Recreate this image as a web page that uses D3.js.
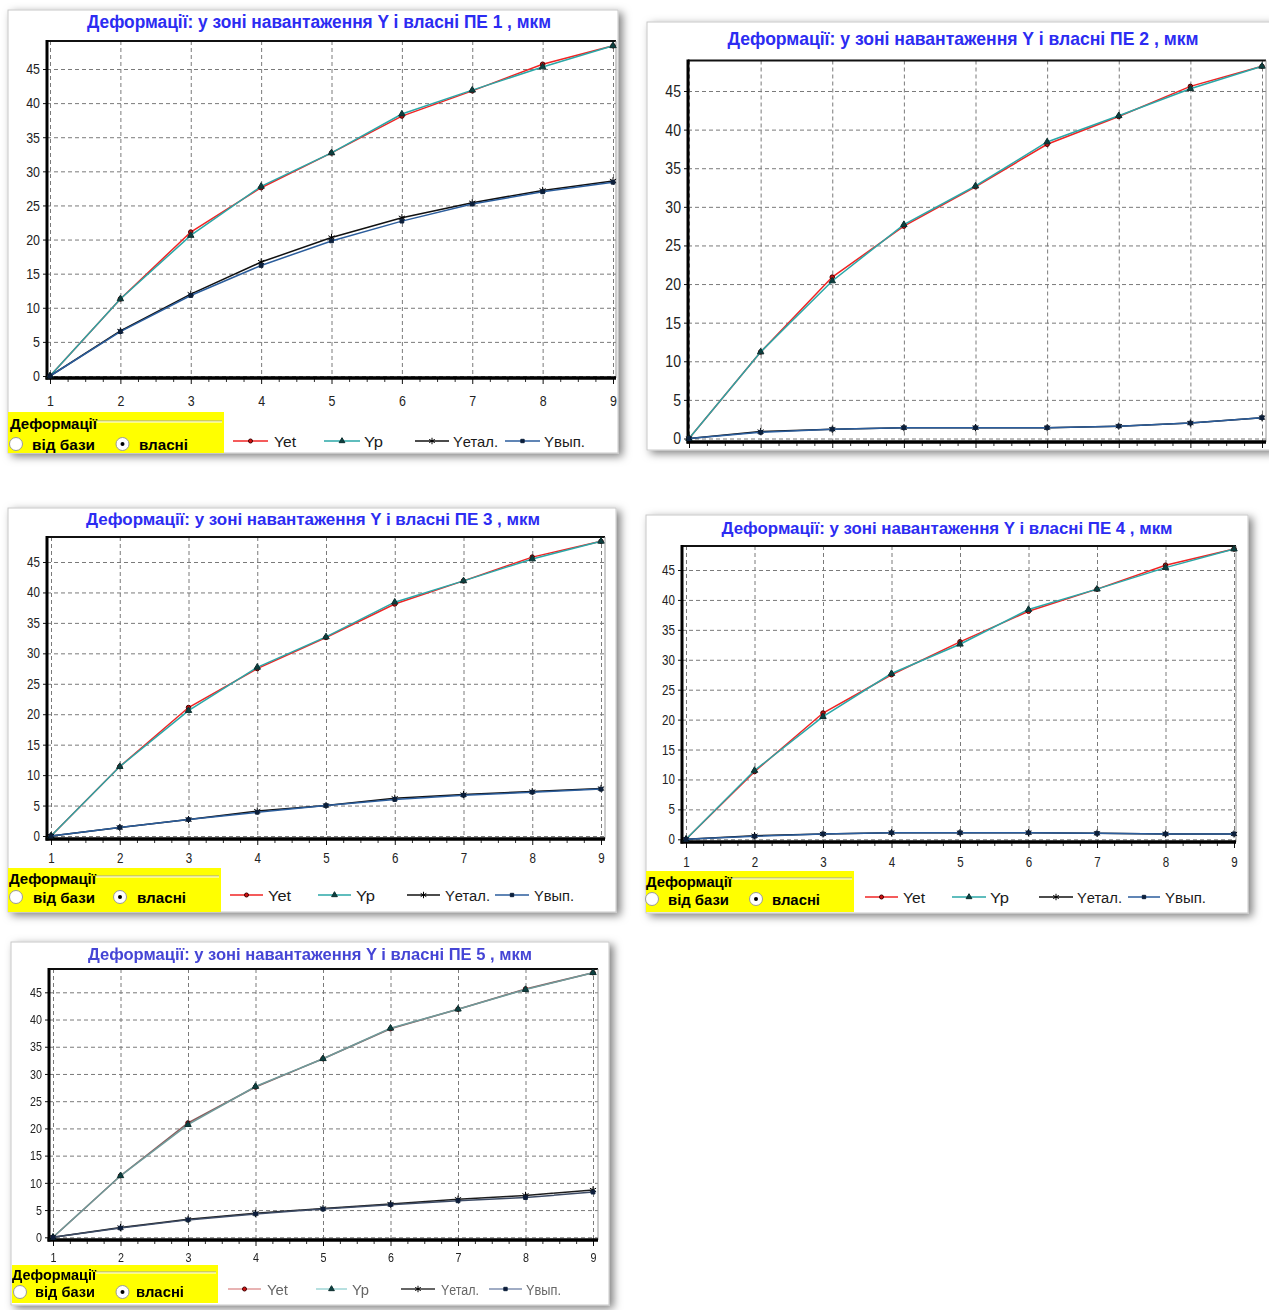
<!DOCTYPE html>
<html>
<head>
<meta charset="utf-8">
<script src="https://cdn.jsdelivr.net/npm/d3@7"></script>
<style>
  html, body { margin: 0; padding: 0; background: #fff; }
  svg { display: block; }
</style>
</head>
<body>
<svg id="chart" width="1269" height="1310"></svg>
<script>
// Load stages along the X axis and Y gridline values (мкм)
const stages = [1, 2, 3, 4, 5, 6, 7, 8, 9];
const yTicks = [0, 5, 10, 15, 20, 25, 30, 35, 40, 45];
const seriesNames = ["Yet", "Yp", "Yетал.", "Yвып."];

// ПЕ 1
const pe1Yet   = [0, 11.3, 21.1, 27.6, 32.7, 38.1, 41.8, 45.7, 48.4];
const pe1Yp    = [0, 11.3, 20.6, 27.8, 32.7, 38.4, 41.9, 45.3, 48.4];
const pe1Yetal = [0, 6.6, 12.0, 16.7, 20.3, 23.2, 25.4, 27.2, 28.6];
const pe1Yvyp  = [0, 6.5, 11.8, 16.2, 19.8, 22.7, 25.2, 27.0, 28.4];
// ПЕ 2
const pe2Yet   = [0, 11.2, 20.9, 27.5, 32.6, 38.1, 41.7, 45.6, 48.2];
const pe2Yp    = [0, 11.2, 20.4, 27.7, 32.7, 38.4, 41.8, 45.3, 48.2];
const pe2Yetal = [0, 0.9, 1.2, 1.4, 1.4, 1.4, 1.6, 2.0, 2.7];
const pe2Yvyp  = [0, 0.8, 1.2, 1.4, 1.4, 1.4, 1.6, 2.0, 2.7];
// ПЕ 3
const pe3Yet   = [0, 11.4, 21.1, 27.5, 32.6, 38.1, 41.9, 45.8, 48.4];
const pe3Yp    = [0, 11.4, 20.6, 27.7, 32.7, 38.4, 41.9, 45.5, 48.4];
const pe3Yetal = [0, 1.4, 2.7, 4.1, 5.0, 6.2, 6.8, 7.3, 7.8];
const pe3Yvyp  = [0, 1.4, 2.7, 3.9, 5.0, 6.0, 6.7, 7.2, 7.7];
// ПЕ 4
const pe4Yet   = [0, 11.3, 21.1, 27.5, 33.0, 38.1, 41.8, 45.8, 48.5];
const pe4Yp    = [0, 11.5, 20.5, 27.7, 32.6, 38.4, 41.8, 45.4, 48.5];
const pe4Yetal = [0, 0.6, 0.9, 1.1, 1.1, 1.1, 1.0, 0.9, 0.9];
const pe4Yvyp  = [0, 0.5, 0.9, 1.1, 1.1, 1.1, 1.0, 0.9, 0.9];
// ПЕ 5
const pe5Yet   = [0, 11.3, 21.0, 27.6, 32.8, 38.3, 41.9, 45.6, 48.6];
const pe5Yp    = [0, 11.3, 20.7, 27.7, 32.8, 38.4, 41.9, 45.5, 48.6];
const pe5Yetal = [0, 1.8, 3.3, 4.4, 5.3, 6.1, 7.0, 7.7, 8.7];
const pe5Yvyp  = [0, 1.7, 3.2, 4.3, 5.2, 6.0, 6.7, 7.3, 8.3];

// Narrow look: regular sans squeezed to a fixed advance width
const SANS = "'Liberation Sans',Arial,'DejaVu Sans',sans-serif";
const NARROW_EM = 0.46;

const svg = d3.select("#chart");
const defs = svg.append("defs");
const sh = defs.append("filter").attr("id", "shadow")
  .attr("x", "-5%").attr("y", "-5%").attr("width", "115%").attr("height", "115%");
sh.append("feDropShadow").attr("dx", 4).attr("dy", 3).attr("stdDeviation", 4.5)
  .attr("flood-color", "#000").attr("flood-opacity", 0.5);
defs.append("filter").attr("id", "soft")
  .append("feGaussianBlur").attr("stdDeviation", 0.6);

// Panel layouts
const panels = [
  { pe: 1, data: [pe1Yet, pe1Yp, pe1Yetal, pe1Yvyp],
    card: { x: 8, y: 10, w: 610, h: 443 },
    plot: { l: 47, t: 41, r: 616, b: 378 },
    x1: 50, x9: 613, y0: 376, y45: 69,
    title: { cx: 319, base: 28, w: 464, size: 18 },
    tickSize: 15, xLabelBase: 406,
    legend: { box: [8, 412, 216, 41], size: 15,
      head: { x: 10, base: 429, w: 87 }, rule: [97, 222, 421],
      r1: [16, 444], r2: [122.5, 444], t1: { x: 32, w: 63 }, t2: { x: 139, w: 49 }, tBase: 450,
      sy: 441, items: [[233, 268, 274, 22], [324, 360, 364, 19], [415, 449, 453, 45], [505, 540, 544, 41]] } },
  { pe: 2, data: [pe2Yet, pe2Yp, pe2Yetal, pe2Yvyp],
    card: { x: 647, y: 22, w: 625, h: 428 },
    plot: { l: 688, t: 60.5, r: 1266, b: 442 },
    x1: 689, x9: 1262, y0: 438.5, y45: 91,
    title: { cx: 963, base: 45, w: 471, size: 19 },
    tickSize: 17, xLabelBase: null, legend: null },
  { pe: 3, data: [pe3Yet, pe3Yp, pe3Yetal, pe3Yvyp],
    card: { x: 8, y: 508, w: 608, h: 404 },
    plot: { l: 47, t: 537, r: 605, b: 839 },
    x1: 51, x9: 601, y0: 836, y45: 562,
    title: { cx: 313, base: 525, w: 454, size: 16 },
    tickSize: 14, xLabelBase: 863,
    legend: { box: [8, 868, 213, 44], size: 14,
      head: { x: 9, base: 884, w: 87 }, rule: [96, 219, 876],
      r1: [16, 897], r2: [120, 897], t1: { x: 33, w: 62 }, t2: { x: 137, w: 49 }, tBase: 903,
      sy: 895, items: [[230, 263, 268, 23], [318, 351, 356, 19], [407, 440, 445, 45], [495, 529, 534, 40]] } },
  { pe: 4, data: [pe4Yet, pe4Yp, pe4Yetal, pe4Yvyp],
    card: { x: 646, y: 515, w: 602, h: 398 },
    plot: { l: 682, t: 546, r: 1236, b: 842 },
    x1: 686, x9: 1234, y0: 839.3, y45: 570,
    title: { cx: 947, base: 534, w: 451, size: 16 },
    tickSize: 14, xLabelBase: 867,
    legend: { box: [646, 871, 208, 41], size: 14,
      head: { x: 646, base: 887, w: 86 }, rule: [732, 852, 878],
      r1: [652, 899], r2: [756, 899], t1: { x: 668, w: 61 }, t2: { x: 772, w: 48 }, tBase: 905,
      sy: 897, items: [[865, 898, 903, 22], [952, 986, 990, 19], [1039, 1073, 1077, 45], [1128, 1160, 1165, 41]] } },
  { pe: 5, data: [pe5Yet, pe5Yp, pe5Yetal, pe5Yvyp], soft: true,
    card: { x: 11, y: 942, w: 598, h: 363 },
    plot: { l: 49, t: 969, r: 598, b: 1240 },
    x1: 53, x9: 593, y0: 1237.3, y45: 992.3,
    title: { cx: 310, base: 960, w: 444, size: 16 },
    tickSize: 13, xLabelBase: 1262,
    legend: { box: [12, 1265, 206, 38], size: 14,
      head: { x: 12, base: 1280, w: 84 }, rule: [96, 216, 1272],
      r1: [20, 1292], r2: [122.5, 1292], t1: { x: 35, w: 60 }, t2: { x: 136, w: 48 }, tBase: 1297,
      sy: 1289, items: [[228, 261, 267, 21], [316, 347, 352, 17], [401, 435, 441, 38], [489, 522, 526, 35]] } }
];

const colorsMain = ["#f02424", "#2aa7a7", "#111111", "#2b5d9c"];
const colorsSoftPlot = ["#8a5a5a", "#6f9a9a", "#1e1e1e", "#3d4c66"];
const colorsSoftKey = ["#e09a9a", "#9fd6d6", "#333333", "#8090b0"];
const markers = [
  { type: d3.symbolCircle, size: 16, fill: "#d01010", stroke: "#400" },
  { type: d3.symbolTriangle, size: 18, fill: "#0d4040", stroke: "#0d3030" },
  { type: d3.symbolAsterisk, size: 36, fill: "none", stroke: "#000" },
  { type: d3.symbolSquare, size: 14, fill: "#0c1f3a", stroke: "#0c1f3a" }
];

function drawMarker(g, i, cx, cy, scale) {
  const m = markers[i];
  g.append("path")
    .attr("d", d3.symbol().type(m.type).size(m.size * (scale || 1))())
    .attr("transform", `translate(${cx},${cy})`)
    .attr("fill", m.fill).attr("stroke", m.stroke).attr("stroke-width", 1);
}

function narrowLabels(sel, size) {
  sel.attr("font-family", SANS).attr("font-size", size).attr("fill", "#222")
    .attr("lengthAdjust", "spacingAndGlyphs")
    .attr("textLength", function () { return this.textContent.length * NARROW_EM * size; });
}

panels.forEach(p => {
  const root = svg.append("g");
  root.append("rect")
    .attr("x", p.card.x).attr("y", p.card.y).attr("width", p.card.w).attr("height", p.card.h)
    .attr("fill", "#fff").attr("stroke", "#c8c8c8").attr("filter", "url(#shadow)");
  const g = root.append("g");
  if (p.soft) g.attr("filter", "url(#soft)");
  const colors = p.soft ? colorsSoftPlot : colorsMain;
  const keyColors = p.soft ? colorsSoftKey : colorsMain;

  const x = d3.scaleLinear().domain([1, 9]).range([p.x1, p.x9]);
  const y = d3.scaleLinear().domain([0, 45]).range([p.y0, p.y45]);
  const P = p.plot;

  // Title
  g.append("text")
    .attr("x", p.title.cx - p.title.w / 2).attr("y", p.title.base)
    .attr("textLength", p.title.w).attr("lengthAdjust", "spacingAndGlyphs")
    .attr("font-family", SANS).attr("font-weight", "bold").attr("font-size", p.title.size)
    .attr("fill", p.soft ? "#4545d5" : "#2c2cf2")
    .text(`Деформації: у зоні навантаження Y і власні ПЕ ${p.pe} , мкм`);

  // Dashed grid
  const gridX = g.append("g").attr("transform", `translate(0,${P.t})`)
    .call(d3.axisBottom(x).tickValues(stages).tickSize(P.b - P.t).tickFormat(""));
  const gridY = g.append("g").attr("transform", `translate(${P.l},0)`)
    .call(d3.axisRight(y).tickValues(yTicks).tickSize(P.r - P.l).tickFormat(""));
  [gridX, gridY].forEach(a => {
    a.select(".domain").remove();
    a.selectAll("line").attr("stroke", "#7a7a7a").attr("stroke-width", 1).attr("stroke-dasharray", "4,3");
  });

  // Frame
  g.append("line").attr("x1", P.l).attr("x2", P.r).attr("y1", P.t).attr("y2", P.t)
    .attr("stroke", "#111").attr("stroke-width", 2);
  g.append("line").attr("x1", P.r).attr("x2", P.r).attr("y1", P.t).attr("y2", P.b)
    .attr("stroke", "#9a9a9a").attr("stroke-width", 1);

  // Y axis
  const ya = g.append("g").attr("transform", `translate(${P.l},0)`)
    .call(d3.axisLeft(y).tickValues(yTicks).tickSize(4).tickPadding(3));
  ya.select(".domain").remove();
  ya.selectAll("line").attr("stroke", "#111");
  narrowLabels(ya.selectAll("text"), p.tickSize);

  // X axis: minor and major ticks
  const minor = d3.range(1, 9.01, 0.25).filter(v => v % 1 !== 0);
  const xm = g.append("g").attr("transform", `translate(0,${P.b})`)
    .call(d3.axisBottom(x).tickValues(minor).tickSize(4).tickFormat(""));
  xm.select(".domain").remove();
  xm.selectAll("line").attr("stroke", "#333");
  const xa = g.append("g").attr("transform", `translate(0,${P.b})`)
    .call(d3.axisBottom(x).tickValues(stages).tickSize(6).tickFormat(d3.format("d")));
  xa.select(".domain").remove();
  xa.selectAll("line").attr("stroke", "#111");
  if (p.xLabelBase) {
    const xt = xa.selectAll("text").attr("y", p.xLabelBase - P.b).attr("dy", 0);
    narrowLabels(xt, p.tickSize);
  } else {
    xa.selectAll("text").remove();
  }

  // Thick left and bottom axis lines
  g.append("line").attr("x1", P.l).attr("x2", P.l).attr("y1", P.t - 1).attr("y2", P.b + 1.5)
    .attr("stroke", "#000").attr("stroke-width", 3);
  g.append("line").attr("x1", P.l - 1.5).attr("x2", P.r).attr("y1", P.b).attr("y2", P.b)
    .attr("stroke", "#000").attr("stroke-width", 3.5);

  // Series lines and markers
  const line = d3.line().x((d, i) => x(stages[i])).y(d => y(d));
  p.data.forEach((vals, i) => {
    g.append("path").attr("d", line(vals)).attr("fill", "none")
      .attr("stroke", colors[i]).attr("stroke-width", 1.5);
    vals.forEach((v, j) => drawMarker(g, i, x(stages[j]), y(v)));
  });

  // Legend
  const L = p.legend;
  if (L) {
    g.append("rect").attr("x", L.box[0]).attr("y", L.box[1]).attr("width", L.box[2]).attr("height", L.box[3])
      .attr("fill", "#ffff00");
    g.append("line").attr("x1", L.rule[0]).attr("x2", L.rule[1]).attr("y1", L.rule[2]).attr("y2", L.rule[2])
      .attr("stroke", "#a0a0a0").attr("stroke-width", 1);
    g.append("line").attr("x1", L.rule[0]).attr("x2", L.rule[1]).attr("y1", L.rule[2] + 1).attr("y2", L.rule[2] + 1)
      .attr("stroke", "#ffffff").attr("stroke-width", 1);
    const bold = (t, o, base) => g.append("text").attr("x", o.x).attr("y", base)
      .attr("textLength", o.w).attr("lengthAdjust", "spacingAndGlyphs")
      .attr("font-family", SANS).attr("font-weight", "bold").attr("font-size", L.size)
      .attr("fill", "#000").text(t);
    bold("Деформації", L.head, L.head.base);
    [L.r1, L.r2].forEach((c, k) => {
      g.append("circle").attr("cx", c[0]).attr("cy", c[1]).attr("r", 6.5)
        .attr("fill", "#fff").attr("stroke", "#9a9a9a").attr("stroke-width", 1);
      if (k === 1) g.append("circle").attr("cx", c[0]).attr("cy", c[1]).attr("r", 2).attr("fill", "#000");
    });
    bold("від бази", L.t1, L.tBase);
    bold("власні", L.t2, L.tBase);

    L.items.forEach((it, i) => {
      g.append("line").attr("x1", it[0]).attr("x2", it[1]).attr("y1", L.sy).attr("y2", L.sy)
        .attr("stroke", keyColors[i]).attr("stroke-width", 1.5);
      drawMarker(g, i, (it[0] + it[1]) / 2, L.sy, 0.8);
      g.append("text").attr("x", it[2]).attr("y", L.sy + 5.5)
        .attr("textLength", it[3]).attr("lengthAdjust", "spacingAndGlyphs")
        .attr("font-family", SANS).attr("font-size", L.size).attr("fill", p.soft ? "#666" : "#1a1a1a")
        .text(seriesNames[i]);
    });
  }
});
</script>
</body>
</html>
